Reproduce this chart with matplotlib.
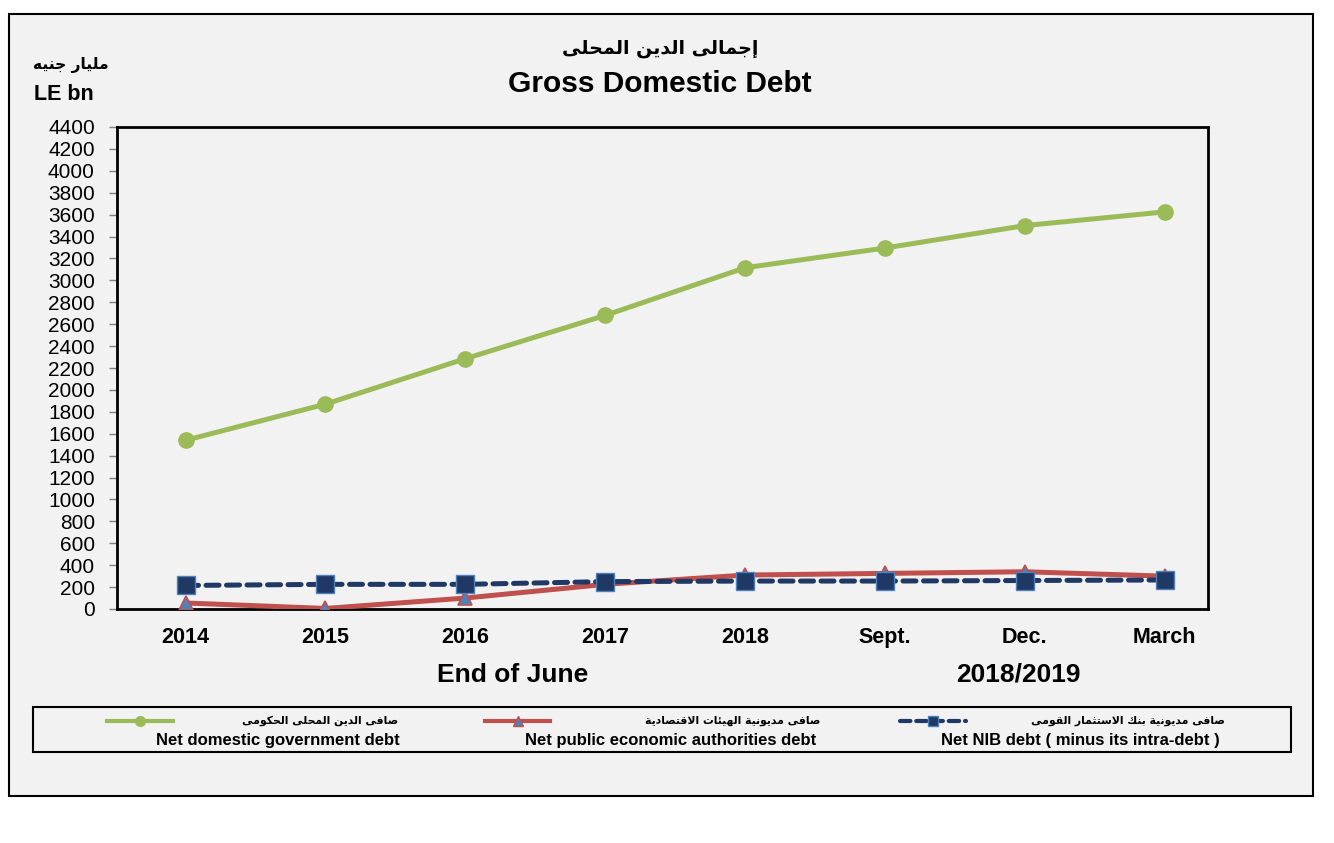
"""
Gross Domestic Debt (LE bn) — line chart, end of June 2014-2018 plus 2018/2019 quarters.
"""

import unicodedata

import matplotlib
matplotlib.use("Agg")
import matplotlib.pyplot as plt
from matplotlib.lines import Line2D
from matplotlib.patches import Rectangle

# ── data ─────────────────────────────────────────────────────
categories = ["2014", "2015", "2016", "2017", "2018", "Sept.", "Dec.", "March"]
gov_debt = [1540, 1870, 2285, 2680, 3115, 3295, 3500, 3625]
authorities_debt = [55, 5, 100, 225, 310, 325, 340, 300]
nib_debt = [215, 225, 225, 250, 255, 255, 260, 265]
y_ticks = list(range(0, 4401, 200))

title_ar = "إجمالى الدين المحلى"
title_en = "Gross Domestic Debt"
unit_ar = "مليار جنيه"
unit_en = "LE bn"
series_ar = [
    "صافى الدين المحلى الحكومى",
    "صافى مديونية الهيئات الاقتصادية",
    "صافى مديونية بنك الاستثمار القومى",
]
series_en = [
    "Net domestic government debt",
    "Net public economic authorities debt",
    "Net NIB debt ( minus its intra-debt )",
]

GREEN = "#9bbb59"
RED = "#c0504d"
NAVY = "#1f3864"
STEEL = "#4f81bd"
BG = "#f2f2f2"

W, H = 1334, 843
EN_FONT = ["Liberation Sans", "DejaVu Sans"]
AR_FONT = ["DejaVu Sans"]


# ── minimal Arabic shaping (matplotlib has no bidi/shaping) ──

def _form(ch, form):
    try:
        return unicodedata.lookup(f"{unicodedata.name(ch)} {form} FORM")
    except (KeyError, ValueError):
        return None


def shape_arabic(text):
    def joins_prev(c):
        return c is not None and _form(c, "FINAL") is not None

    def joins_next(c):
        return c is not None and _form(c, "INITIAL") is not None

    out = []
    i = 0
    while i < len(text):
        c = text[i]
        prev = text[i - 1] if i > 0 else None
        nxt = text[i + 1] if i + 1 < len(text) else None
        if c == "ل" and nxt is not None and nxt in "اأإآ":
            tail = unicodedata.name(nxt).replace("ARABIC LETTER ", "")
            form = "FINAL" if joins_next(prev) else "ISOLATED"
            out.append(unicodedata.lookup(f"ARABIC LIGATURE LAM WITH {tail} {form} FORM"))
            i += 2
            continue
        if _form(c, "ISOLATED") is None:
            out.append(c)
            i += 1
            continue
        back = joins_next(prev) and joins_prev(c)
        fwd = joins_next(c) and joins_prev(nxt)
        if back and fwd:
            form = "MEDIAL"
        elif back:
            form = "FINAL"
        elif fwd:
            form = "INITIAL"
        else:
            form = "ISOLATED"
        out.append(_form(c, form) or c)
        i += 1
    return "".join(reversed(out))


def px(x, y):
    """pixel position (from top-left) -> figure fraction."""
    return x / W, 1 - y / H


# ── figure ───────────────────────────────────────────────────
fig = plt.figure(figsize=(W / 100, H / 100), dpi=100)
fig.patch.set_facecolor("white")

x0, y0 = px(9, 796)
x1, y1 = px(1313, 14)
fig.patches.append(Rectangle((x0, y0), x1 - x0, y1 - y0, transform=fig.transFigure,
                             facecolor=BG, edgecolor="black", linewidth=1.5, zorder=-1))

ax = fig.add_axes([117 / W, 1 - 609 / H, (1208 - 117) / W, (609 - 127) / H])
ax.set_facecolor(BG)

xs = list(range(len(categories)))
ax.plot(xs, gov_debt, color=GREEN, linewidth=3.6, marker="o", markersize=11,
        markerfacecolor=GREEN, markeredgecolor=GREEN, zorder=3)
ax.plot(xs, authorities_debt, color=RED, linewidth=3.6, marker="^", markersize=10.5,
        markerfacecolor=STEEL, markeredgecolor=RED, markeredgewidth=1.2, zorder=3)
ax.plot(xs, nib_debt, color=NAVY, linewidth=3.6, linestyle=(0, (2.6, 1.5)),
        dash_capstyle="round", marker="s", markersize=12.5,
        markerfacecolor=NAVY, markeredgecolor=STEEL, markeredgewidth=1, zorder=4)

ax.set_xlim(-0.49, 7.31)
ax.set_ylim(0, 4400)
ax.set_yticks(y_ticks)
ax.set_yticklabels([str(v) for v in y_ticks], fontsize=15, family=EN_FONT)
ax.set_xticks(xs)
ax.set_xticklabels(categories, fontsize=15.5, fontweight="bold", family=EN_FONT)
ax.tick_params(axis="y", direction="out", length=6, width=1, color="#808080", pad=10)
ax.tick_params(axis="x", length=0, pad=13)
for s in ax.spines.values():
    s.set_linewidth(2)
    s.set_color("black")

# ── titles & annotations ─────────────────────────────────────
fig.text(*px(660, 48), shape_arabic(title_ar), ha="center", va="center",
         fontsize=13.7, fontweight="bold", family=AR_FONT)
fig.text(*px(660, 92), title_en, ha="center", va="baseline",
         fontsize=21.5, fontweight="bold", family=EN_FONT)
fig.text(*px(33, 65), shape_arabic(unit_ar), ha="left", va="center",
         fontsize=11.2, fontweight="bold", family=AR_FONT)
fig.text(*px(34, 100), unit_en, ha="left", va="baseline",
         fontsize=15.5, fontweight="bold", family=EN_FONT)
fig.text(*px(513, 682), "End of June", ha="center", va="baseline",
         fontsize=19, fontweight="bold", family=EN_FONT)
fig.text(*px(1018, 682), "2018/2019", ha="center", va="baseline",
         fontsize=19, fontweight="bold", family=EN_FONT)

# ── legend box ───────────────────────────────────────────────
lx0, ly0 = px(33, 752)
lx1, ly1 = px(1291, 707)
fig.patches.append(Rectangle((lx0, ly0), lx1 - lx0, ly1 - ly0, transform=fig.transFigure,
                             facecolor=BG, edgecolor="black", linewidth=1.5, zorder=1))

handles = [
    dict(x=(107, 173), color=GREEN, lw=3, ls="-", marker="o", mfc=GREEN, mec=GREEN, ms=7),
    dict(x=(485, 550), color=RED, lw=3, ls="-", marker="^", mfc=STEEL, mec=RED, ms=7),
    dict(x=(900, 966), color=NAVY, lw=3, ls=(0, (2.5, 1.4)), marker="s", mfc=NAVY, mec=STEEL, ms=7),
]
ar_right = [398, 820, 1225]
en_right = [400, 816, 1220]
for h, ar, en, xa, xe in zip(handles, series_ar, series_en, ar_right, en_right):
    (hx0, hy), (hx1, _) = px(h["x"][0], 721), px(h["x"][1], 721)
    fig.lines.append(Line2D([hx0, hx1], [hy, hy], transform=fig.transFigure,
                            color=h["color"], linewidth=h["lw"], linestyle=h["ls"],
                            dash_capstyle="round", zorder=2))
    fig.lines.append(Line2D([(hx0 + hx1) / 2], [hy], transform=fig.transFigure,
                            marker=h["marker"], markersize=h["ms"], markerfacecolor=h["mfc"],
                            markeredgecolor=h["mec"], linestyle="none", zorder=3))
    fig.text(*px(xa, 721), shape_arabic(ar), ha="right", va="center",
             fontsize=7.8, fontweight="bold", family=AR_FONT, zorder=3)
    fig.text(*px(xe, 745), en, ha="right", va="baseline",
             fontsize=12, fontweight="bold", family=EN_FONT, zorder=3)

fig.savefig("out.png", dpi=100, facecolor="white")
